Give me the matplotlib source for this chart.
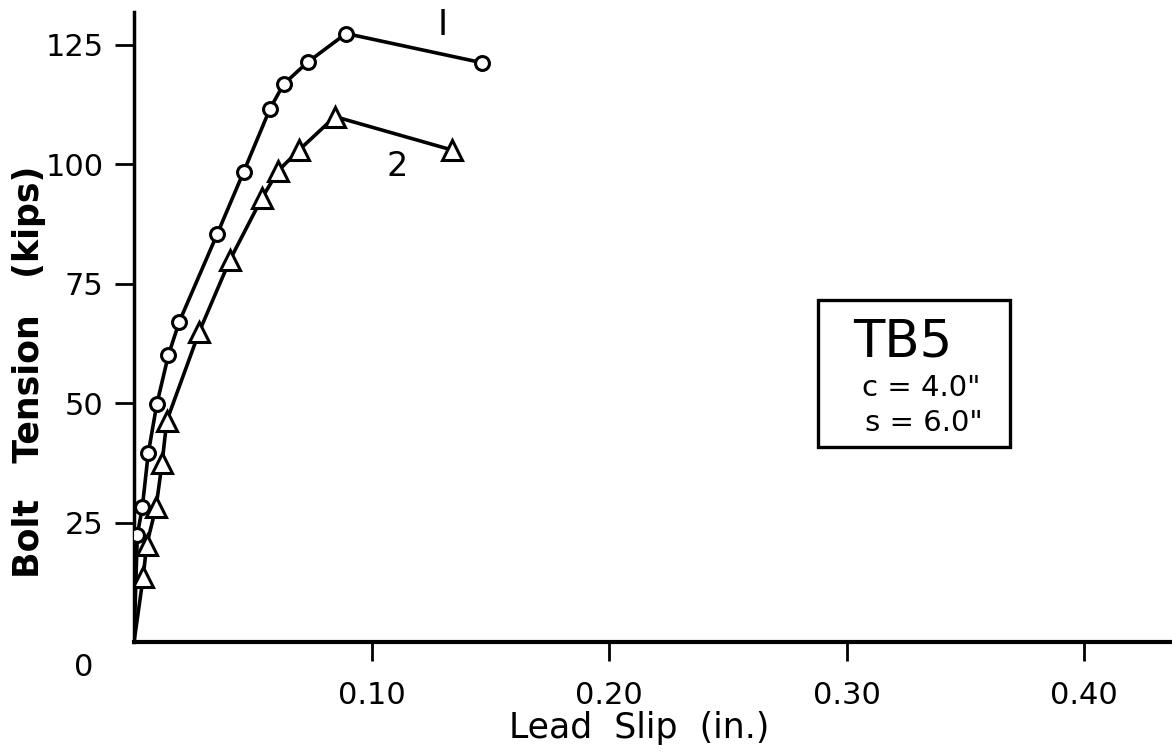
import matplotlib.pyplot as plt
from matplotlib.patches import Rectangle

# curve 1 (circles) and curve 2 (triangles)
slip_1 = [0, 0.0014, 0.0035, 0.0060, 0.0096, 0.0145, 0.0191, 0.0351,
          0.0462, 0.0573, 0.0630, 0.0731, 0.0893, 0.1464]
tension_1 = [0, 22.4, 28.2, 39.5, 49.8, 60.1, 67.1, 85.5,
             98.5, 111.7, 116.8, 121.4, 127.4, 121.3]

slip_2 = [0, 0.0039, 0.0053, 0.0093, 0.0118, 0.0138, 0.0275, 0.0404,
          0.0538, 0.0608, 0.0695, 0.0846, 0.1340]
tension_2 = [0, 13.7, 20.3, 28.3, 37.4, 46.3, 65.0, 80.0,
             92.9, 98.7, 103.0, 110.0, 103.0]

x_ticks = [0.10, 0.20, 0.30, 0.40]
x_labels = ["0.10", "0.20", "0.30", "0.40"]
y_ticks = [25, 50, 75, 100, 125]
y_labels = [str(v) for v in y_ticks]

fig = plt.figure(figsize=(11.72, 7.52), dpi=100)
ax = fig.add_axes([134 / 1172, 110 / 752, 1038 / 1172, 630 / 752])

# no marker at the origin, the curves just start there
ax.plot(slip_1, tension_1, color="black", lw=2.6, marker="o", ms=10,
        mfc="white", mec="black", mew=2.2, markevery=slice(1, None), zorder=3)
ax.plot(slip_2, tension_2, color="black", lw=2.6, marker="^", ms=14,
        mfc="white", mec="black", mew=2.2, markevery=slice(1, None), zorder=3)

ax.set_xlim(0, 1038 / 2375)
ax.set_ylim(0, 630 / 4.776)

ax.spines["top"].set_visible(False)
ax.spines["right"].set_visible(False)
ax.spines["left"].set_linewidth(2.5)
ax.spines["bottom"].set_linewidth(3)

ax.set_xticks(x_ticks)
ax.set_xticklabels(x_labels, fontsize=22)
ax.set_yticks(y_ticks)
ax.set_yticklabels(y_labels, fontsize=22)
ax.tick_params(axis="both", direction="out", length=14, width=2, pad=8)
ax.tick_params(axis="x", pad=14)

ax.annotate("0", xy=(0, 0), xytext=(-36, -18), textcoords="offset points",
            fontsize=22, ha="center", va="center")

ax.set_xlabel("Lead  Slip  (in.)", fontsize=25)
ax.xaxis.set_label_coords(0.487, -0.110)
ax.set_ylabel("Bolt   Tension   (kips)", fontsize=25, fontweight="bold")
ax.yaxis.set_label_coords(-0.085, 0.429)

# curve numbers
ax.text(0.130, 129.2, "I", fontsize=25, ha="center", va="center")
ax.text(0.1107, 99.5, "2", fontsize=24, ha="center", va="center")

# specimen box
ax.add_patch(Rectangle((0.659, 0.310), 0.185, 0.233, transform=ax.transAxes,
                       fill=False, lw=2.4, ec="black", clip_on=False))
ax.text(0.741, 0.476, "TB5", transform=ax.transAxes, fontsize=37,
        ha="center", va="center")
ax.text(0.701, 0.403, 'c = 4.0"', transform=ax.transAxes, fontsize=21,
        ha="left", va="center")
ax.text(0.704, 0.348, 's = 6.0"', transform=ax.transAxes, fontsize=21,
        ha="left", va="center")

fig.savefig("out.png", dpi=100)
